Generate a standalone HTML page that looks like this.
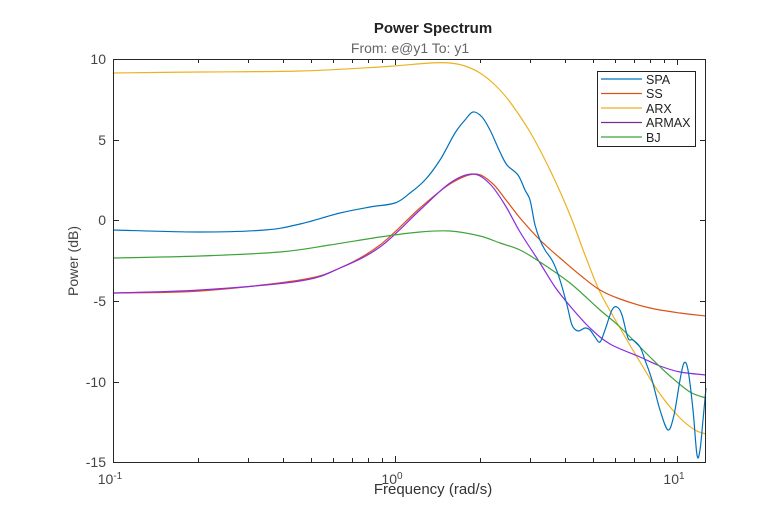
<!DOCTYPE html>
<html><head><style>body{margin:0;background:#fff}svg{display:block}text{font-family:"Liberation Sans",sans-serif}</style></head><body>
<svg id="s" width="780" height="520" viewBox="0 0 780 520" xmlns="http://www.w3.org/2000/svg">
<rect width="780" height="520" fill="#fff"/>
<text x="433" y="33" font-size="15" font-weight="bold" text-anchor="middle" fill="#222">Power Spectrum</text>
<text x="410" y="53" font-size="14" text-anchor="middle" fill="#666">From: e@y1  To: y1</text>
<g fill="none" stroke-width="1.2" id="curves">
<polyline stroke="#EDB120" points="113,73 200,72 300,71 380,67 430,63 450,63 465,66 480,73 495,85 510,102 530,132 550,170 570,215 585,255 600,292 620,328 640,362 660,394 680,418 695,430 706,434"/>
<polyline stroke="#D95319" points="113,293 200,291 300,280 340,268 380,245 420,208 450,184 475,174 492,183 506,200 520,218 540,240 560,258 580,275 600,290 620,299 650,308 680,313 706,316"/>
<polyline stroke="#8B2BE2" points="113,293 200,290 300,281 340,268 380,247 420,210 450,183 473,174 490,184 505,205 520,232 540,263 555,287 570,306 590,328 610,344 640,357 660,366 680,372 706,375"/>
<polyline stroke="#3FA33A" points="113,258 200,256 280,252 330,245 380,237 420,232 450,231 480,236 500,243 520,250 540,262 570,283 600,310 620,327 650,357 670,376 690,392 706,398"/>
<polyline stroke="#0072BD" points="113,230 200,232 265,230 300,224 340,213 370,207 395,203 410,193 425,180 440,160 455,133 465,120 473,112 482,117 490,130 500,152 507,165 518,175 525,190 530,200 535,225 540,240 545,250 553,262 560,280 567,305 572,325 578,331 585,328 590,330 595,337 600,342 605,330 612,310 617,307 622,315 628,338 633,340 640,347 645,360 652,380 660,410 668,430 674,415 680,380 684,363 688,370 693,410 697,455 700,450 703,420 706,388"/>
</g>
<g stroke="#262626" stroke-width="1" fill="none">
<rect x="113.5" y="59.5" width="592" height="403"/>
<path d="M113,140.5h6M113,220.5h6M113,301.5h6M113,382.5h6M706,140.5h-6M706,220.5h-6M706,301.5h-6M706,382.5h-6"/>
<path d="M395.5,462v-6M677.5,462v-6M395.5,59v6M677.5,59v6"/>
<path d="M198.5,462v-4M248.5,462v-4M283.5,462v-4M311.5,462v-4M333.5,462v-4M352.5,462v-4M368.5,462v-4M382.5,462v-4M480.5,462v-4M530.5,462v-4M565.5,462v-4M593.5,462v-4M615.5,462v-4M634.5,462v-4M650.5,462v-4M664.5,462v-4M198.5,59v4M248.5,59v4M283.5,59v4M311.5,59v4M333.5,59v4M352.5,59v4M368.5,59v4M382.5,59v4M480.5,59v4M530.5,59v4M565.5,59v4M593.5,59v4M615.5,59v4M634.5,59v4M650.5,59v4M664.5,59v4"/>
</g>
<g font-size="14" fill="#444" text-anchor="end">
<text x="106" y="64">10</text><text x="106" y="145">5</text><text x="106" y="225">0</text><text x="106" y="306">-5</text><text x="106" y="387">-10</text><text x="106" y="467">-15</text>
</g>
<g font-size="14" fill="#444" text-anchor="middle">
<text x="110" y="484">10<tspan font-size="10" dy="-5">-1</tspan></text>
<text x="392" y="484">10<tspan font-size="10" dy="-5">0</tspan></text>
<text x="674" y="484">10<tspan font-size="10" dy="-5">1</tspan></text>
<text x="433" y="494" font-size="15" fill="#333">Frequency  (rad/s)</text>
<text transform="translate(78,261) rotate(-90)" font-size="14" fill="#444">Power (dB)</text>
</g>
<rect x="597.5" y="71.5" width="98" height="75" fill="#fff" stroke="#222"/>
<g stroke-width="1.2">
<line x1="601" y1="79" x2="642" y2="79" stroke="#0072BD"/>
<line x1="601" y1="93.5" x2="642" y2="93.5" stroke="#D95319"/>
<line x1="601" y1="108" x2="642" y2="108" stroke="#EDB120"/>
<line x1="601" y1="122.5" x2="642" y2="122.5" stroke="#7E2F8E"/>
<line x1="601" y1="137" x2="642" y2="137" stroke="#3FA33A"/>
</g>
<g font-size="12.5" fill="#222">
<text x="646" y="84">SPA</text><text x="646" y="98">SS</text><text x="646" y="113">ARX</text><text x="646" y="127">ARMAX</text><text x="646" y="142">BJ</text>
</g>
</svg>
<script>
document.querySelectorAll('#curves polyline').forEach(function(pl){
 var p=pl.getAttribute('points').trim().split(/\s+/).map(function(s){return s.split(',').map(Number);});
 var d='M'+p[0][0]+','+p[0][1];
 for(var i=0;i<p.length-1;i++){
  var p0=p[i-1]||p[i],p1=p[i],p2=p[i+1],p3=p[i+2]||p2;
  var c1x=p1[0]+(p2[0]-p0[0])/6,c1y=p1[1]+(p2[1]-p0[1])/6;
  var c2x=p2[0]-(p3[0]-p1[0])/6,c2y=p2[1]-(p3[1]-p1[1])/6;
  d+=' C'+c1x.toFixed(1)+','+c1y.toFixed(1)+' '+c2x.toFixed(1)+','+c2y.toFixed(1)+' '+p2[0]+','+p2[1];
 }
 var path=document.createElementNS('http://www.w3.org/2000/svg','path');
 path.setAttribute('d',d);path.setAttribute('stroke',pl.getAttribute('stroke'));
 pl.parentNode.replaceChild(path,pl);
});
</script>
</body></html>
